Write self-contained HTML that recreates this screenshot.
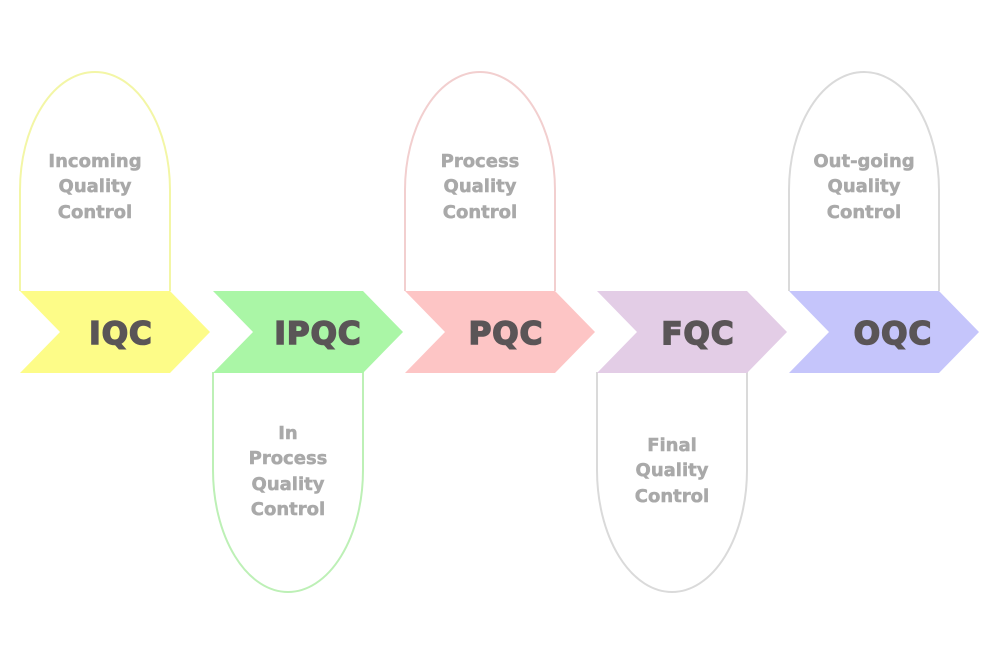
<!DOCTYPE html>
<html><head><meta charset="utf-8"><style>
html,body{margin:0;padding:0;background:#fff;}
svg{display:block;}
.l{font-family:"DejaVu Sans",Verdana,sans-serif;font-weight:bold;font-size:18px;fill:#a9a9a9;stroke:#a9a9a9;stroke-width:0.5;text-anchor:middle;}
.c{font-family:"DejaVu Sans",Verdana,sans-serif;font-weight:bold;font-size:31px;fill:#5a5557;stroke:#5a5557;stroke-width:1.6;text-anchor:middle;letter-spacing:1px;}
</style></head><body>
<svg width="1000" height="645" viewBox="0 0 1000 645" xmlns="http://www.w3.org/2000/svg">
<rect width="1000" height="645" fill="#fff"/>
<g fill="none" stroke-width="2">
<path d="M20,291 V190 A75,118 0 0 1 170,190 V291" stroke="#f3f6a6"/>
<path d="M213,372 V470 A75,122 0 0 0 363,470 V372" stroke="#bdf0b6"/>
<path d="M405,291 V190 A75,118 0 0 1 555,190 V291" stroke="#f2cfcf"/>
<path d="M597,372 V470 A75,122 0 0 0 747,470 V372" stroke="#dadada"/>
<path d="M789,291 V190 A75,118 0 0 1 939,190 V291" stroke="#dadada"/>
</g>
<polygon points="20,291 170,291 210,332 170,373 20,373 60,332" fill="#fdfc88"/>
<polygon points="213,291 363,291 403,332 363,373 213,373 253,332" fill="#aaf6a6"/>
<polygon points="405,291 555,291 595,332 555,373 405,373 445,332" fill="#fdc5c5"/>
<polygon points="597,291 747,291 787,332 747,373 597,373 637,332" fill="#e3cde6"/>
<polygon points="789,291 939,291 979,332 939,373 789,373 829,332" fill="#c5c5fb"/>
<text class="c" x="121" y="344">IQC</text>
<text class="c" x="318" y="344">IPQC</text>
<text class="c" x="506" y="344">PQC</text>
<text class="c" x="698" y="344">FQC</text>
<text class="c" x="893" y="344">OQC</text>
<text class="l" x="95" y="167">Incoming</text>
<text class="l" x="95" y="192">Quality</text>
<text class="l" x="95" y="218">Control</text>
<text class="l" x="288" y="439">In</text>
<text class="l" x="288" y="464">Process</text>
<text class="l" x="288" y="490">Quality</text>
<text class="l" x="288" y="515">Control</text>
<text class="l" x="480" y="167">Process</text>
<text class="l" x="480" y="192">Quality</text>
<text class="l" x="480" y="218">Control</text>
<text class="l" x="672" y="451">Final</text>
<text class="l" x="672" y="476">Quality</text>
<text class="l" x="672" y="502">Control</text>
<text class="l" x="864" y="167">Out-going</text>
<text class="l" x="864" y="192">Quality</text>
<text class="l" x="864" y="218">Control</text>
</svg>
</body></html>
